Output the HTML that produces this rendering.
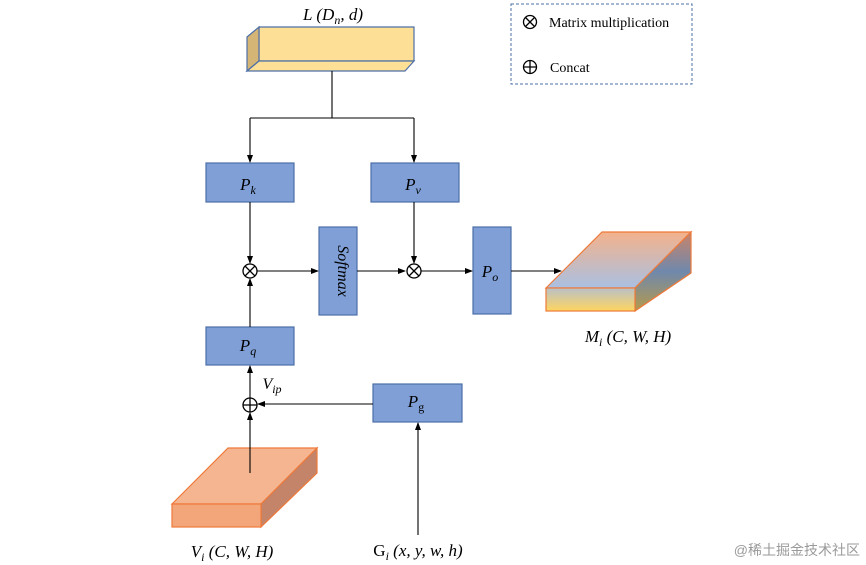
<!DOCTYPE html>
<html><head><meta charset="utf-8"><style>
html,body{margin:0;padding:0;background:#fff;}
svg{display:block;}
text{font-family:"Liberation Serif","DejaVu Serif",serif;}
</style></head><body>
<svg width="866" height="565" viewBox="0 0 866 565" xmlns="http://www.w3.org/2000/svg">
<defs>
<marker id="a" markerWidth="8" markerHeight="8" refX="7" refY="4" orient="auto" markerUnits="userSpaceOnUse">
<path d="M0,1 L8,4 L0,7 z" fill="#000"/></marker>
<linearGradient id="gt" x1="0" y1="0" x2="0" y2="1">
<stop offset="0" stop-color="#f4b28c"/><stop offset="1" stop-color="#a9c0e2"/></linearGradient>
<linearGradient id="gf" x1="0" y1="0" x2="0" y2="1">
<stop offset="0" stop-color="#b9c0c6"/><stop offset="1" stop-color="#ffd560"/></linearGradient>
<linearGradient id="gr" x1="0" y1="0" x2="0" y2="1">
<stop offset="0" stop-color="#c9846a"/><stop offset="0.5" stop-color="#6f88ac"/><stop offset="1" stop-color="#b59a4a"/></linearGradient>
</defs>
<g fill="#7f9fd6" stroke="#4d6fa8" stroke-width="1.2">
<rect x="206" y="163" width="88" height="39"/>
<rect x="371" y="163" width="88" height="39"/>
<rect x="319" y="227" width="38" height="88"/>
<rect x="473" y="227" width="38" height="87"/>
<rect x="206" y="327" width="88" height="38"/>
<rect x="373" y="384" width="89" height="38"/>
</g>
<!-- L block -->
<g stroke="#4d6fa8" stroke-width="1.2">
<polygon points="259,27 414,27 414,61 259,61" fill="#fde095"/>
<polygon points="247,37 259,27 259,61 247,71" fill="#d4b575"/>
<polygon points="259,61 414,61 405,71 247,71" fill="#fde095"/>
</g>
<!-- Vi block -->
<g stroke="#ee7a3a" stroke-width="1.2">
<polygon points="172,504 228,448 317,448 261,504" fill="#f6b591"/>
<polygon points="261,504 317,448 317,473 261,527" fill="#c3846a"/>
<rect x="172" y="504" width="89" height="23" fill="#f3a67a"/>
</g>
<!-- M block -->
<g stroke="#ee7a3a" stroke-width="1.2">
<polygon points="546,288 602,232 691,232 635,288" fill="url(#gt)"/>
<polygon points="635,288 691,232 691,273 635,311" fill="url(#gr)"/>
<rect x="546" y="288" width="89" height="23" fill="url(#gf)"/>
</g>
<!-- connectors -->
<g stroke="#000" stroke-width="1.1" fill="none">
<line x1="332" y1="71" x2="332" y2="118"/>
<line x1="250" y1="118" x2="414" y2="118"/>
<line x1="250" y1="118" x2="250" y2="162" marker-end="url(#a)"/>
<line x1="414" y1="118" x2="414" y2="162" marker-end="url(#a)"/>
<line x1="250" y1="202" x2="250" y2="263" marker-end="url(#a)"/>
<line x1="414" y1="202" x2="414" y2="263" marker-end="url(#a)"/>
<line x1="257" y1="271" x2="318" y2="271" marker-end="url(#a)"/>
<line x1="357" y1="271" x2="405" y2="271" marker-end="url(#a)"/>
<line x1="421" y1="271" x2="472" y2="271" marker-end="url(#a)"/>
<line x1="511" y1="271" x2="561" y2="271" marker-end="url(#a)"/>
<line x1="250" y1="327" x2="250" y2="279" marker-end="url(#a)"/>
<line x1="250" y1="398" x2="250" y2="366" marker-end="url(#a)"/>
<line x1="250" y1="473" x2="250" y2="413" marker-end="url(#a)"/>
<line x1="373" y1="404" x2="258" y2="404" marker-end="url(#a)"/>
<line x1="418" y1="535" x2="418" y2="423" marker-end="url(#a)"/>
</g>
<!-- operators -->
<g stroke="#000" stroke-width="1.3" fill="#fff">
<circle cx="250" cy="271" r="7"/><path d="M245,266 L255,276 M255,266 L245,276"/>
<circle cx="414" cy="271" r="7"/><path d="M409,266 L419,276 M419,266 L409,276"/>
<circle cx="250" cy="405" r="7"/><path d="M243,405 H257 M250,398 V412"/>
</g>
<!-- legend -->
<rect x="511" y="4" width="181" height="80" fill="none" stroke="#4d6fa8" stroke-width="1" stroke-dasharray="3,2"/>
<g stroke="#000" stroke-width="1.3" fill="none">
<circle cx="530" cy="22" r="6.5"/><path d="M525.5,17.5 L534.5,26.5 M534.5,17.5 L525.5,26.5"/>
<circle cx="530" cy="67" r="6.5"/><path d="M523.5,67 H536.5 M530,60.5 V73.5"/>
</g>
<text x="549" y="27" font-size="14">Matrix multiplication</text>
<text x="550" y="72" font-size="14">Concat</text>
<!-- labels -->
<g font-style="italic" font-size="17" text-anchor="middle">
<text x="333" y="20">L (D<tspan font-size="12" dy="4">n</tspan><tspan dy="-4">, d)</tspan></text>
<text x="248" y="190">P<tspan font-size="12" dy="4">k</tspan></text>
<text x="413" y="190">P<tspan font-size="12" dy="4">v</tspan></text>
<text x="490" y="277">P<tspan font-size="12" dy="4">o</tspan></text>
<text x="248" y="351">P<tspan font-size="12" dy="4">q</tspan></text>
<text x="416" y="407">P<tspan font-size="12" font-style="normal" dy="4">g</tspan></text>
<text x="338" y="271" font-size="16" transform="rotate(90 338 271)">Softmax</text>
<text x="272" y="389" font-size="16">V<tspan font-size="12" dy="4">ip</tspan></text>
<text x="628" y="342">M<tspan font-size="12" dy="4">i</tspan><tspan dy="-4"> (C, W, H)</tspan></text>
<text x="232" y="557">V<tspan font-size="12" dy="4">i</tspan><tspan dy="-4"> (C, W, H)</tspan></text>
<text x="418" y="556"><tspan font-style="normal">G</tspan><tspan font-size="12" dy="4">i</tspan><tspan dy="-4"> (x, y, w, h)</tspan></text>
</g>
<text x="860" y="555" text-anchor="end" font-size="14" fill="#9a9a9a" style="font-family:'Liberation Sans','Noto Sans CJK SC',sans-serif">@稀土掘金技术社区</text>
</svg>
</body></html>
